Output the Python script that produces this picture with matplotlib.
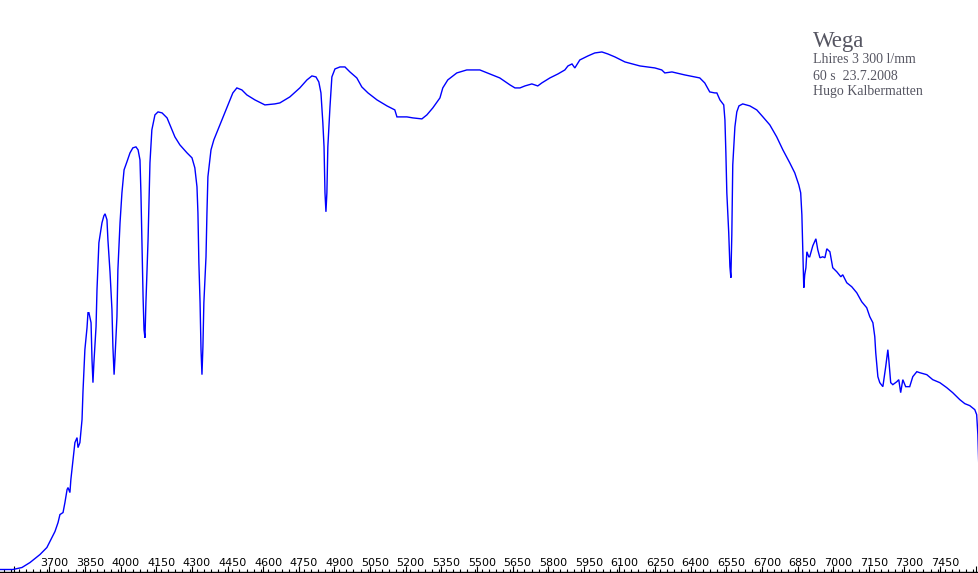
import matplotlib
matplotlib.use("Agg")
import matplotlib.pyplot as plt
from matplotlib.ticker import MultipleLocator, FixedLocator
import numpy as np

# Wavelength (Angstrom) and relative flux (arbitrary units)
wavelength = [
    3492, 3546, 3584, 3618, 3660, 3689, 3710, 3723, 3736, 3744, 3757, 3765, 3774, 3778,
    3786, 3790, 3799, 3807, 3816, 3820, 3828, 3837, 3841, 3849, 3858, 3862, 3866, 3875,
    3879, 3883, 3887, 3896, 3900, 3908, 3921, 3929, 3934, 3942, 3946, 3955, 3963, 3967,
    3972, 3976, 3984, 3988, 3997, 4005, 4014, 4026, 4039, 4051, 4064, 4073, 4081, 4085,
    4089, 4094, 4098, 4102, 4106, 4115, 4123, 4131, 4144, 4157, 4174, 4195, 4216, 4228,
    4249, 4279, 4300, 4312, 4321, 4325, 4329, 4334, 4338, 4342, 4346, 4350, 4359, 4363,
    4367, 4380, 4392, 4409, 4426, 4451, 4472, 4489, 4510, 4531, 4565, 4607, 4649, 4670,
    4712, 4754, 4784, 4805, 4822, 4834, 4843, 4851, 4856, 4860, 4864, 4868, 4872, 4881,
    4889, 4902, 4923, 4944, 4965, 4994, 5015, 5041, 5079, 5121, 5154, 5163, 5205, 5230,
    5268, 5289, 5314, 5344, 5356, 5377, 5415, 5457, 5512, 5554, 5596, 5639, 5660, 5681,
    5702, 5731, 5756, 5773, 5807, 5841, 5870, 5883, 5900, 5912, 5933, 5967, 5996, 6026,
    6051, 6081, 6123, 6186, 6249, 6278, 6291, 6321, 6375, 6417, 6438, 6459, 6480, 6501,
    6510, 6523, 6539, 6544, 6548, 6552, 6560, 6565, 6569, 6573, 6577, 6586, 6594, 6603,
    6619, 6649, 6678, 6704, 6733, 6762, 6788, 6817, 6838, 6855, 6863, 6868, 6872, 6876,
    6880, 6885, 6889, 6897, 6901, 6914, 6927, 6935, 6944, 6956, 6965, 6973, 6986, 6998,
    7015, 7032, 7040, 7057, 7078, 7099, 7120, 7141, 7154, 7167, 7175, 7179, 7188, 7196,
    7209, 7221, 7230, 7234, 7242, 7251, 7268, 7276, 7284, 7293, 7305, 7322, 7335, 7352,
    7364, 7394, 7419, 7449, 7478, 7503, 7533, 7554, 7575, 7596, 7604, 7609, 7613,
]
flux = [
    2, 2, 4, 9, 17, 24, 34, 40, 49, 57, 59, 69, 82, 84,
    79, 92, 112, 129, 134, 124, 129, 152, 180, 222, 244, 259, 259, 249,
    212, 189, 209, 245, 282, 329, 349, 356, 358, 352, 332, 299, 262, 225,
    197, 215, 255, 302, 349, 379, 402, 410, 419, 424, 425, 422, 412, 379,
    335, 275, 242, 234, 269, 332, 409, 442, 457, 460, 459, 454, 442, 435,
    427, 419, 414, 404, 385, 359, 309, 269, 222, 197, 225, 269, 315, 359,
    395, 422, 432, 442, 452, 467, 479, 484, 482, 477, 472, 467, 468, 469,
    475, 484, 492, 496, 495, 490, 479, 449, 425, 379, 360, 379, 425, 465,
    495, 503, 505, 505, 500, 494, 485, 479, 472, 466, 462, 455, 455, 454,
    453, 457, 464, 474, 484, 492, 499, 502, 502, 498, 494, 487, 484, 484,
    486, 488, 486, 489, 494, 498, 502, 506, 508, 504, 512, 516, 519, 520,
    518, 515, 510, 506, 504, 502, 499, 500, 497, 495, 494, 489, 480, 479,
    479, 472, 467, 452, 419, 379, 339, 305, 294, 337, 407, 445, 460, 466,
    468, 466, 462, 455, 447, 435, 422, 409, 399, 387, 379, 357, 322, 284,
    297, 304, 320, 315, 315, 326, 333, 322, 314, 315, 314, 323, 320, 304,
    300, 295, 297, 289, 285, 279, 270, 264, 255, 249, 235, 219, 195, 189,
    185, 205, 222, 212, 189, 187, 190, 192, 179, 192, 185, 185, 195, 200,
    199, 197, 192, 189, 184, 179, 172, 168, 166, 162, 157, 137, 105,
]

tick_values = list(range(3700, 7451, 150))
tick_labels = [str(v) for v in tick_values]

title_text = "Wega"
info_lines = ["Lhires 3 300 l/mm", "60 s  23.7.2008", "Hugo Kalbermatten"]

W, H = 979, 573
fig = plt.figure(figsize=(W / 100, H / 100), dpi=100)
fig.patch.set_facecolor("white")
ax = fig.add_axes([0, 1.5 / H, 1, (H - 1.5) / H])
ax.set_facecolor("white")

ax.plot(wavelength, flux, color="#0000ff", lw=1.0, solid_joinstyle="miter")

ax.set_xlim(3491.6, 7613.8)
ax.set_ylim(0, 572)

for s in ["top", "left", "right"]:
    ax.spines[s].set_visible(False)
ax.spines["bottom"].set_color("black")
ax.spines["bottom"].set_linewidth(1.0)
ax.yaxis.set_visible(False)

ax.xaxis.set_major_locator(FixedLocator(list(range(3550, 7601, 150))))
ax.xaxis.set_minor_locator(MultipleLocator(30))
ax.tick_params(axis="x", which="major", direction="in", length=4.0, width=0.8,
               color="black", labelbottom=False)
ax.tick_params(axis="x", which="minor", direction="in", length=2.0, width=0.8,
               color="black")

for v, lab in zip(tick_values, tick_labels):
    ax.annotate(lab, xy=(v, 0), xycoords=("data", "axes fraction"),
                xytext=(3.6, 4.0), textcoords="offset points",
                ha="center", va="baseline", fontsize=8,
                family="DejaVu Sans", color="black")

gray = "#565662"
fig.text(812.5 / W, 1 - 47 / H, title_text, fontsize=16.5, family="Liberation Serif",
         color=gray, ha="left", va="baseline")
baselines = [63, 79.5, 95]
for line, b in zip(info_lines, baselines):
    fig.text(813 / W, 1 - b / H, line, fontsize=10, family="Liberation Serif",
             color=gray, ha="left", va="baseline")

fig.savefig("out.png", dpi=100, facecolor="white")
